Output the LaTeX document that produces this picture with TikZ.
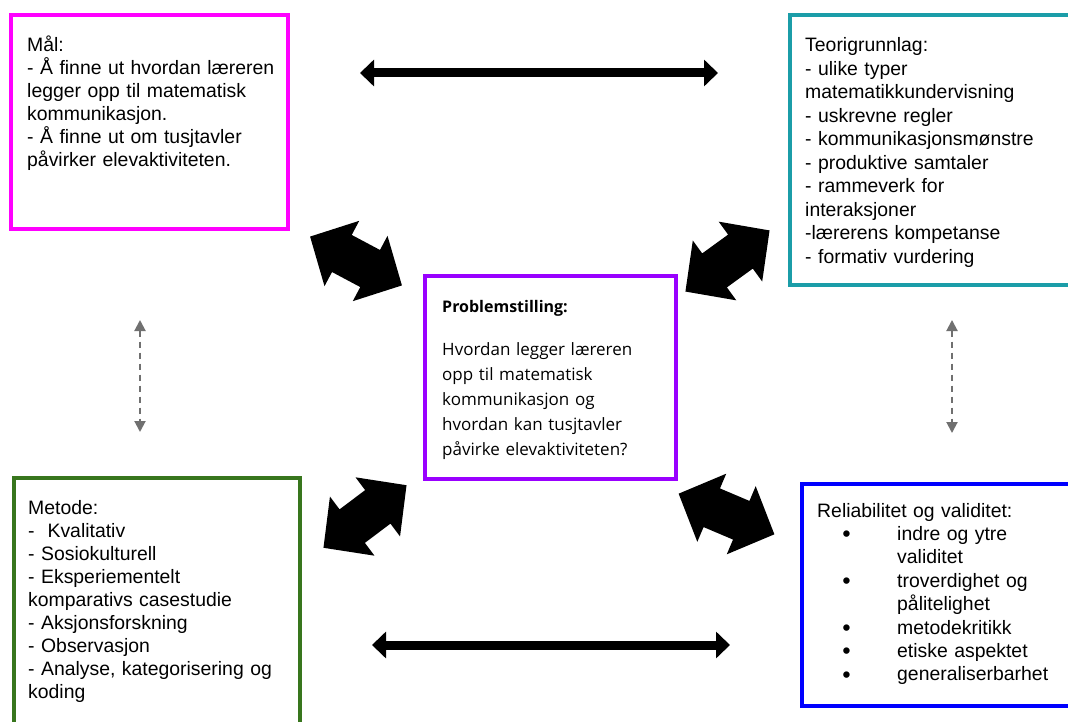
\documentclass[tikz,border=0pt]{standalone}
\usepackage{fontspec}
\setmainfont{Liberation Sans}
\newfontfamily\osans{Open Sans}
\usetikzlibrary{arrows.meta}
\definecolor{cmag}{HTML}{FF00FF}
\definecolor{cteal}{HTML}{1B9DA8}
\definecolor{cpurp}{HTML}{9900FF}
\definecolor{cgreen}{HTML}{38761D}
\definecolor{cblue}{HTML}{0000FF}
\definecolor{cgray}{HTML}{707070}
\newcommand{\bul}{\hspace*{25.5pt}\makebox[54.5pt][l]{\raisebox{-1.5pt}{\fontsize{22.5}{22.5}\selectfont\bfseries •}}}
\begin{document}
\begin{tikzpicture}[x=1pt,y=-1pt,
  box/.style={draw,line width=3.6pt,anchor=north west,outer sep=0pt,inner sep=0pt},
  txt/.style={anchor=base west,inner sep=0pt,text width=300pt,align=left,
    font=\fontsize{19.4}{23}\selectfont},
  ptxt/.style={anchor=base west,inner sep=0pt,text width=300pt,align=left,
    font=\osans\fontsize{17}{25}\selectfont},
  thickarrow/.style={line width=9pt,
    {Triangle[length=14pt,width=26pt]}-{Triangle[length=14pt,width=26pt]}},
  dasharrow/.style={line width=2pt,cgray,dash pattern=on 6pt off 5pt,
    {Triangle[length=11pt,width=11pt]}-{Triangle[length=11pt,width=11pt]}},
  blockarrow/.pic={\fill[black] (-52,0) -- (-16,-37) -- (-16,-21) -- (16,-21) -- (16,-37)
      -- (52,0) -- (16,37) -- (16,21) -- (-16,21) -- (-16,37) -- cycle;}
]
\useasboundingbox (0,0) rectangle (1068,722);
\clip (0,0) rectangle (1068,722);
\fill[white] (0,0) rectangle (1068,722);

% boxes
\node[box,draw=cmag,minimum width=277pt,minimum height=214pt] (mal) at (11,15) {};
\node[box,draw=cteal,minimum width=290pt,minimum height=270pt] (teori) at (790,15) {};
\node[box,draw=cpurp,minimum width=251pt,minimum height=203pt] (prob) at (425,276) {};
\node[box,draw=cgreen,minimum width=286pt,minimum height=262pt] (metode) at (14,478) {};
\node[box,draw=cblue,minimum width=278pt,minimum height=222pt] (rel) at (802,484) {};

% texts
\node[txt] (maltxt) at (27,52) {Mål:\\
- Å finne ut hvordan læreren\\
legger opp til matematisk\\
kommunikasjon.\\
- Å finne ut om tusjtavler\\
påvirker elevaktiviteten.};

\node[txt,font=\fontsize{19.4}{23.5}\selectfont] (teoritxt) at (805,52) {Teorigrunnlag:\\
- ulike typer\\
matematikkundervisning\\
- uskrevne regler\\
- kommunikasjonsmønstre\\
- produktive samtaler\\
- rammeverk for\\
interaksjoner\\
-lærerens kompetanse\\
- formativ vurdering};

\node[ptxt] (probtxt) at (442,312) {{\fontsize{16}{25}\selectfont\textbf{Problemstilling:}}\\[18pt]
Hvordan legger læreren\\
opp til matematisk\\
kommunikasjon og\\
hvordan kan tusjtavler\\
påvirke elevaktiviteten?};

\node[txt,font=\fontsize{19.4}{23.1}\selectfont] (metodetxt) at (28,514) {Metode:\\
-\ \ Kvalitativ\\
- Sosiokulturell\\
- Eksperiementelt\\
komparativs casestudie\\
- Aksjonsforskning\\
- Observasjon\\
- Analyse, kategorisering og\\
koding};

\node[txt,font=\fontsize{19.4}{23.4}\selectfont] (reltxt) at (817,517) {Reliabilitet og validitet:\\
\bul indre og ytre\\
\hspace*{80pt}validitet\\
\bul troverdighet og\\
\hspace*{80pt}pålitelighet\\
\bul metodekritikk\\
\bul etiske aspektet\\
\bul generaliserbarhet};

% horizontal arrows
\coordinate (t1) at (360,73);
\coordinate (t2) at (718,73);
\coordinate (b1) at (372,645);
\coordinate (b2) at (730,645);
\draw[thickarrow] (t1) -- (t2);
\draw[thickarrow] (b1) -- (b2);

% dashed arrows
\coordinate (dl1) at (140,320);
\coordinate (dl2) at (140,432);
\coordinate (dr1) at (952,320);
\coordinate (dr2) at (952,433);
\draw[dasharrow] (dl1) -- (dl2);
\draw[dasharrow] (dr1) -- (dr2);

% block arrows
\pic[rotate=-28] at (356,261) {blockarrow};
\pic[rotate=36] at (727.5,261) {blockarrow};
\pic[rotate=37] at (365,516.5) {blockarrow};
\pic[rotate=-23] at (726.5,514) {blockarrow};
\end{tikzpicture}
\end{document}
